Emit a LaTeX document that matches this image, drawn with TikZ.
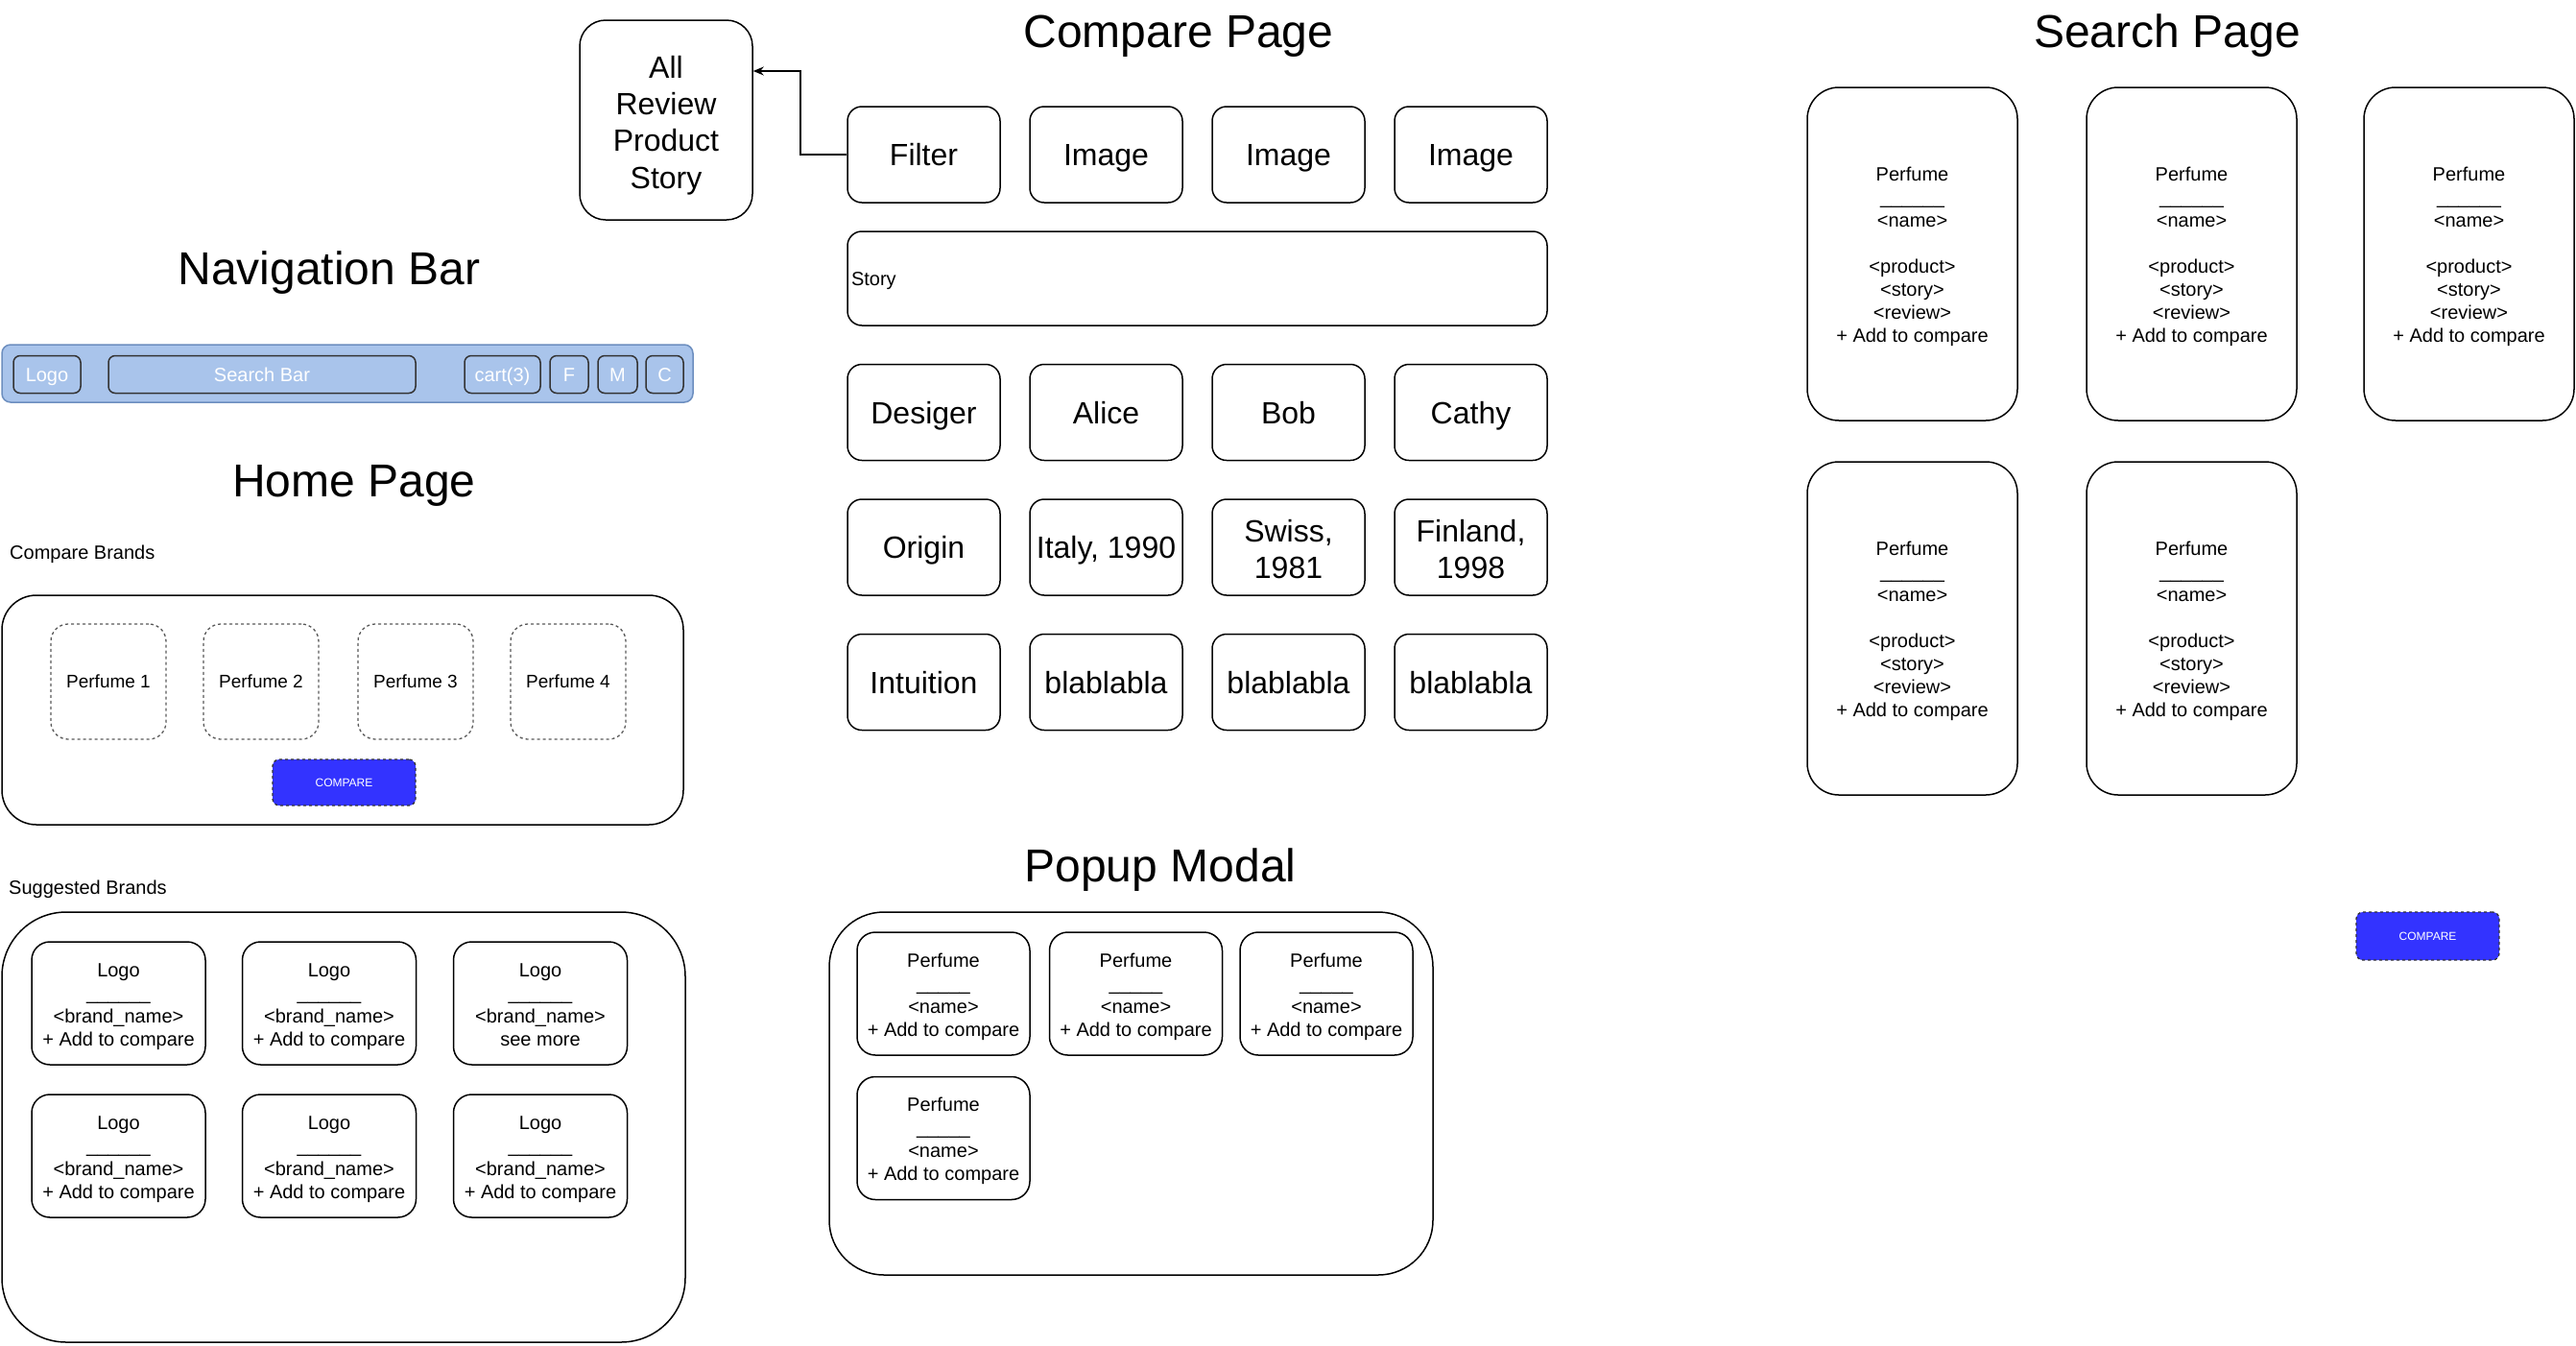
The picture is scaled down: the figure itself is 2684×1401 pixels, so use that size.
\documentclass[tikz,border=0pt]{standalone}
\usepackage{fontspec}
\setmainfont{Liberation Sans}
\usetikzlibrary{arrows.meta}
\definecolor{navfill}{HTML}{A9C4EB}
\definecolor{navline}{HTML}{6C8EBF}
\definecolor{btnblue}{HTML}{3333FF}
\newcommand{\lnstrut}{\rule[-0.24em]{0pt}{1.2em}}
\newcommand{\topw}{\rule{0pt}{21pt}}
\newcommand{\topt}{\rule{0pt}{35.2pt}}
\begin{document}
\begin{tikzpicture}[x=1pt,y=-1pt,
  every node/.append style={execute at begin node=\lnstrut, execute at end node=\lnstrut},
  box/.style={draw=black, line width=1.5pt, rounded corners=#1, inner sep=0pt, align=center},
  box/.default=19pt,
  sz/.style 2 args={minimum width=#1pt, minimum height=#2pt},
  ftw/.style={font=\fontsize{20}{24}\selectfont},
  ftt/.style={font=\fontsize{32}{38.4}\selectfont},
  ftitle/.style={font=\fontsize{48}{57.6}\selectfont, inner sep=0pt},
  navbtn/.style={draw=black!80, fill=navfill, line width=1.5pt, rounded corners=7pt, inner sep=0pt, text=white, font=\fontsize{20}{24}\selectfont},
  dbox/.style={draw=black!65, dashed, line width=1.3pt, rounded corners=18pt, inner sep=0pt, font=\fontsize{19}{23}\selectfont},
  cmpbtn/.style={draw=black!80, dashed, fill=btnblue, line width=1.3pt, rounded corners=7pt, inner sep=0pt, text=white, font=\fontsize{12}{14.4}\selectfont},
  lbl/.style={anchor=west, inner sep=0pt, font=\fontsize{20}{24}\selectfont}
]
\useasboundingbox (0,0) rectangle (2684,1401);

% Titles
\node[ftitle] (tnav) at (343,279) {Navigation Bar};
\node[ftitle] (tcmp) at (1228,32) {Compare Page};
\node[ftitle] (tsrch) at (2258,32) {Search Page};
\node[ftitle] (thome) at (369,500) {Home Page};
\node[ftitle] (tpop) at (1209,901) {Popup Modal};

% Navigation bar
\node[draw=navline, fill=navfill, line width=1.5pt, rounded corners=9pt, inner sep=0pt, sz={720}{60}] (nav) at (362,389) {};
\node[navbtn, sz={70}{39}] (nlogo) at (49,390) {Logo};
\node[navbtn, sz={320}{39}] (nsearch) at (273,390) {Search Bar};
\node[navbtn, sz={79}{39}] (ncart) at (523.5,390) {cart(3)};
\node[navbtn, sz={40}{39}] (nf) at (593,390) {F};
\node[navbtn, sz={41}{39}] (nm) at (643.5,390) {M};
\node[navbtn, sz={39}{39}] (nc) at (692.5,390) {C};

% Home page: compare brands
\node[lbl] (lcb) at (10,575) {Compare Brands};
\node[box=36pt, sz={710}{239}] (cbwrap) at (357,739.5) {};
\node[dbox, sz={120}{120}] (p1) at (113,710) {Perfume 1};
\node[dbox, sz={120}{120}] (p2) at (272,710) {Perfume 2};
\node[dbox, sz={120}{120}] (p3) at (433,710) {Perfume 3};
\node[dbox, sz={120}{120}] (p4) at (592,710) {Perfume 4};
\node[cmpbtn, sz={149}{48}] (cmp1) at (358.5,815) {COMPARE};

% Home page: suggested brands
\node[lbl] (lsb) at (9,924) {Suggested Brands};
\node[box=67pt, sz={712}{448}] (sbwrap) at (358,1174) {};
\foreach \cx/\cy/\nm/\last in {123.5/1045/b1/{+ Add to compare}, 343/1045/b2/{+ Add to compare}, 563/1045/b3/{see more},
  123.5/1204/b4/{+ Add to compare}, 343/1204/b5/{+ Add to compare}, 563/1204/b6/{+ Add to compare}}{
  \node[box, ftw, sz={181}{128}] (\nm) at (\cx,\cy) {\topw Logo\\\_\_\_\_\_\_\\<brand\_name>\\\last};
}

% Compare page
\node[box=27pt, ftt, sz={180}{208}] (allrev) at (694,125) {\topt All\\Review\\Product\\Story};
\node[box=15pt, ftt, sz={159}{100}] (filter) at (962.5,161) {Filter};
\node[box=15pt, ftt, sz={159}{100}] (img1) at (1152.5,161) {Image};
\node[box=15pt, ftt, sz={159}{100}] (img2) at (1342.5,161) {Image};
\node[box=15pt, ftt, sz={159}{100}] (img3) at (1532.5,161) {Image};
\node[box=15pt, ftw, align=left, text width=721pt, inner xsep=4pt, minimum height=98pt] (story) at (1247.5,290) {Story};
\node[box=15pt, ftt, sz={159}{100}] (des) at (962.5,429.5) {Desiger};
\node[box=15pt, ftt, sz={159}{100}] (alice) at (1152.5,429.5) {Alice};
\node[box=15pt, ftt, sz={159}{100}] (bob) at (1342.5,429.5) {Bob};
\node[box=15pt, ftt, sz={159}{100}] (cathy) at (1532.5,429.5) {Cathy};
\node[box=15pt, ftt, sz={159}{100}] (origin) at (962.5,570) {Origin};
\node[box=15pt, ftt, sz={159}{100}] (italy) at (1152.5,570) {Italy, 1990};
\node[box=15pt, ftt, sz={159}{100}] (swiss) at (1342.5,570) {\topt Swiss,\\1981};
\node[box=15pt, ftt, sz={159}{100}] (fin) at (1532.5,570) {\topt Finland,\\1998};
\node[box=15pt, ftt, sz={159}{100}] (intu) at (962.5,710.5) {Intuition};
\node[box=15pt, ftt, sz={159}{100}] (bla1) at (1152.5,710.5) {blablabla};
\node[box=15pt, ftt, sz={159}{100}] (bla2) at (1342.5,710.5) {blablabla};
\node[box=15pt, ftt, sz={159}{100}] (bla3) at (1532.5,710.5) {blablabla};
\coordinate (bend) at (834,74);
\draw[line width=1.3pt, -{Stealth[length=11pt,width=9pt]}] (filter.west) -| (bend) -- (allrev.east |- bend);

% Search page
\foreach \cx/\cy/\nm in {1992.5/264.5/s1, 2283.5/264.5/s2, 2572.5/264.5/s3, 1992.5/654.5/s4, 2283.5/654.5/s5}{
  \node[box=33pt, ftw, sz={219}{347}] (\nm) at (\cx,\cy) {\topw Perfume\\\_\_\_\_\_\_\\<name>\\[24pt]<product>\\<story>\\<review>\\+ Add to compare};
}
\node[cmpbtn, sz={149}{50}] (cmp2) at (2529.5,975) {COMPARE};

% Popup modal
\node[box=57pt, sz={629}{378}] (popwrap) at (1178.5,1139) {};
\foreach \cx/\cy/\nm in {983/1035/m1, 1183.5/1035/m2, 1382/1035/m3, 983/1185.5/m4}{
  \node[box, ftw, sz={180}{128}] (\nm) at (\cx,\cy) {\topw Perfume\\\_\_\_\_\_\\<name>\\+ Add to compare};
}
\end{tikzpicture}
\end{document}
